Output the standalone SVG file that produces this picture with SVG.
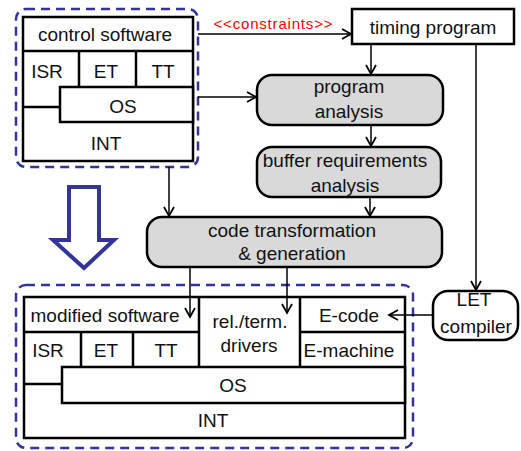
<svg xmlns="http://www.w3.org/2000/svg" width="521" height="451" viewBox="0 0 521 451">
<style>
text{font-family:"Liberation Sans",Arial,sans-serif;font-size:19px;fill:#111;text-anchor:middle}
.box{fill:#fff;stroke:#000;stroke-width:2.5}
.ln{fill:none;stroke:#000;stroke-width:2.5}
.proc{fill:#d9d9d9;stroke:#000;stroke-width:2.5}
.dash{fill:none;stroke:#333399;stroke-width:2.5;stroke-dasharray:9 6}
.con{fill:none;stroke:#000;stroke-width:1.5}
.red{fill:#ff0000;font-size:15px}
</style>
<defs>
<marker id="ah" markerUnits="userSpaceOnUse" markerWidth="12" markerHeight="12" refX="10" refY="6" orient="auto">
<path d="M1,1 L10,6 L1,11" fill="none" stroke="#000" stroke-width="1.8"/>
</marker>
</defs>
<g id="top-stack">
<rect class="dash" x="16" y="9" width="182" height="158" rx="10"/>
<rect class="box" x="23" y="17" width="170" height="144"/>
<line class="ln" x1="23" y1="51" x2="193" y2="51"/>
<line class="ln" x1="79" y1="51" x2="79" y2="87"/>
<line class="ln" x1="136" y1="51" x2="136" y2="87"/>
<rect class="box" x="60" y="87" width="133" height="35"/>
<line class="ln" x1="23" y1="107" x2="60" y2="107"/>
<text x="105" y="41">control software</text>
<text x="47" y="78">ISR</text>
<text x="106" y="78">ET</text>
<text x="163" y="78">TT</text>
<text x="123" y="113">OS</text>
<text x="106" y="150">INT</text>
</g>
<g id="timing-program">
<rect class="box" x="352" y="9" width="162" height="35"/>
<text x="433" y="34">timing program</text>
</g>
<g id="program-analysis">
<rect class="proc" x="257" y="75" width="186" height="50" rx="15"/>
<text x="349" y="93">program</text>
<text x="349" y="118">analysis</text>
</g>
<g id="buffer-analysis">
<rect class="proc" x="257" y="147" width="184" height="50" rx="15"/>
<text x="345" y="167">buffer requirements</text>
<text x="345" y="192">analysis</text>
</g>
<g id="code-transformation">
<rect class="proc" x="147" y="217" width="295" height="50" rx="15"/>
<text x="292" y="237">code transformation</text>
<text x="292" y="260">&amp; generation</text>
</g>
<g id="let-compiler">
<rect class="box" x="433" y="291" width="85" height="49" rx="15"/>
<text x="474" y="306">LET</text>
<text x="476" y="333">compiler</text>
</g>
<g id="big-arrow">
<polygon points="69,187 99,187 99,240 114,240 84,268 53,240 69,240" fill="#fff" stroke="#333399" stroke-width="4"/>
</g>
<g id="bottom-stack">
<rect class="dash" x="16" y="285" width="397" height="163" rx="10"/>
<rect class="box" x="24" y="297" width="381" height="141"/>
<line class="ln" x1="24" y1="332" x2="199" y2="332"/>
<line class="ln" x1="199" y1="297" x2="199" y2="367"/>
<line class="ln" x1="300" y1="297" x2="300" y2="367"/>
<line class="ln" x1="300" y1="332" x2="405" y2="332"/>
<line class="ln" x1="81" y1="332" x2="81" y2="367"/>
<line class="ln" x1="133" y1="332" x2="133" y2="367"/>
<rect class="box" x="62" y="367" width="343" height="36"/>
<line class="ln" x1="24" y1="384" x2="62" y2="384"/>
<text x="105" y="322">modified software</text>
<text x="48" y="357">ISR</text>
<text x="106" y="357">ET</text>
<text x="166" y="357">TT</text>
<text x="250" y="328">rel./term.</text>
<text x="249" y="352">drivers</text>
<text x="349" y="322">E-code</text>
<text x="349" y="357">E-machine</text>
<text x="233" y="392">OS</text>
<text x="213" y="427">INT</text>
</g>
<g id="connectors">
<line class="con" x1="198" y1="34" x2="351" y2="34" marker-end="url(#ah)"/>
<text class="red" x="273" y="29" textLength="119" lengthAdjust="spacing">&lt;&lt;constraints&gt;&gt;</text>
<line class="con" x1="198" y1="97" x2="256" y2="97" marker-end="url(#ah)"/>
<line class="con" x1="371" y1="44" x2="371" y2="74" marker-end="url(#ah)"/>
<line class="con" x1="371" y1="125" x2="371" y2="146" marker-end="url(#ah)"/>
<line class="con" x1="370" y1="197" x2="370" y2="216" marker-end="url(#ah)"/>
<line class="con" x1="169" y1="167" x2="169" y2="216" marker-end="url(#ah)"/>
<line class="con" x1="190" y1="267" x2="190" y2="317" marker-end="url(#ah)"/>
<line class="con" x1="287" y1="267" x2="287" y2="313" marker-end="url(#ah)"/>
<line class="con" x1="476" y1="44" x2="476" y2="290" marker-end="url(#ah)"/>
<line class="con" x1="433" y1="315" x2="389" y2="315" marker-end="url(#ah)"/>
</g>
</svg>
